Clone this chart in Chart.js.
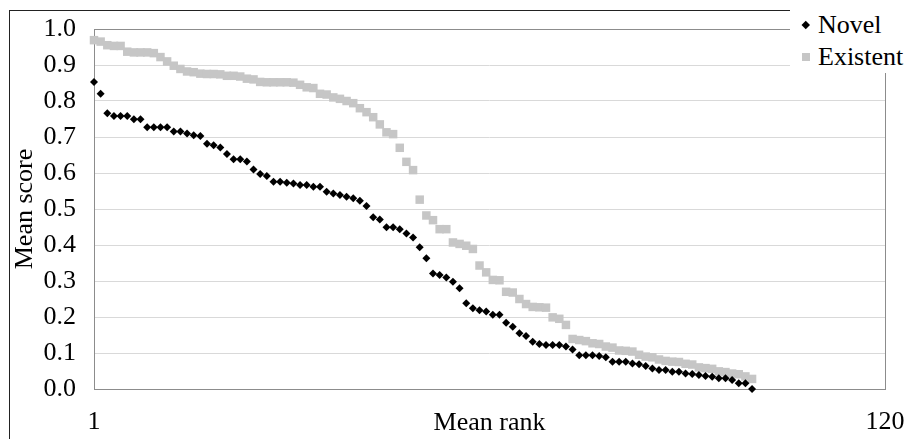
<!DOCTYPE html>
<html>
<head>
<meta charset="utf-8">
<script src="https://cdn.jsdelivr.net/npm/chart.js@4/dist/chart.umd.min.js"></script>
<style>
  body { margin: 0; background: #fff; }
  #wrap { position: relative; width: 907px; height: 439px; }
  #legend {
    position: absolute; left: 790px; top: 0; width: 117px; height: 73px;
    background: #fff; padding-top: 9px; box-sizing: border-box;
    font: 26px "Liberation Serif", "Times New Roman", serif; color: #000;
  }
  .row { position: relative; height: 32px; line-height: 32px; padding-left: 28px; white-space: nowrap; }
  .mark { position: absolute; left: 12px; top: 12px; width: 8px; height: 8px; }
  .mark.diamond { left: 13px; top: 13px; width: 5.5px; height: 5.5px; transform: rotate(45deg); }
</style>
</head>
<body>
<div id="wrap">
  <canvas id="chart" width="907" height="439"></canvas>
  <div id="legend"></div>
</div>
<script>
// rank axis
const rankMin = 1;
const rankMax = 120;
const rankTicks = [1, 120];

// mean scores (rank 1..100)
const novelScores = [
  0.853, 0.82, 0.766, 0.758, 0.758, 0.758, 0.749, 0.749, 0.727, 0.727,
  0.727, 0.727, 0.715, 0.715, 0.71, 0.705, 0.703, 0.681, 0.677, 0.671,
  0.653, 0.638, 0.638, 0.632, 0.61, 0.597, 0.592, 0.576, 0.576, 0.573,
  0.571, 0.567, 0.567, 0.562, 0.562, 0.548, 0.543, 0.539, 0.534, 0.53,
  0.523, 0.508, 0.477, 0.471, 0.449, 0.449, 0.444, 0.432, 0.421, 0.394,
  0.363, 0.321, 0.317, 0.31, 0.298, 0.28, 0.238, 0.224, 0.219, 0.215,
  0.206, 0.206, 0.184, 0.173, 0.155, 0.147, 0.131, 0.125, 0.122, 0.122,
  0.122, 0.118, 0.11, 0.094, 0.094, 0.094, 0.092, 0.088, 0.076, 0.076,
  0.076, 0.071, 0.069, 0.064, 0.057, 0.053, 0.053, 0.048, 0.048, 0.043,
  0.042, 0.039, 0.036, 0.034, 0.03, 0.03, 0.025, 0.016, 0.016, 0.0
];
const existentScores = [
  0.969, 0.965, 0.955, 0.953, 0.953, 0.937, 0.935, 0.935, 0.935, 0.933,
  0.922, 0.91, 0.898, 0.889, 0.882, 0.88, 0.876, 0.875, 0.875, 0.874,
  0.87, 0.87, 0.868, 0.862, 0.86, 0.853, 0.852, 0.852, 0.852, 0.852,
  0.851, 0.845, 0.838, 0.836, 0.82, 0.818, 0.81, 0.806, 0.8, 0.794,
  0.78, 0.769, 0.755, 0.735, 0.713, 0.708, 0.67, 0.631, 0.608, 0.526,
  0.482, 0.469, 0.444, 0.444, 0.407, 0.403, 0.398, 0.389, 0.343, 0.324,
  0.303, 0.302, 0.27, 0.268, 0.25, 0.236, 0.228, 0.227, 0.226, 0.199,
  0.195, 0.178, 0.139, 0.136, 0.133, 0.127, 0.125, 0.118, 0.115, 0.107,
  0.106, 0.104, 0.095, 0.09, 0.088, 0.082, 0.078, 0.076, 0.075, 0.07,
  0.068, 0.06, 0.058, 0.056, 0.049, 0.047, 0.043, 0.041, 0.035, 0.028
];
const seriesNames = ['Novel', 'Existent'];

const FONT = { family: '"Liberation Serif", "Times New Roman", serif', size: 26 };
const NOVEL_COLOR = '#000000';
const EXISTENT_COLOR = '#c6c6c6';

// outer box and plot frame
const framePlugin = {
  id: 'frame',
  beforeDraw(chart) {
    const ctx = chart.ctx;
    ctx.save();
    ctx.strokeStyle = '#222';
    ctx.lineWidth = 1;
    ctx.strokeRect(9.5, 10.5, 1000, 1000);
    ctx.restore();
  },
  beforeDatasetsDraw(chart) {
    const { ctx, chartArea: a } = chart;
    ctx.save();
    ctx.strokeStyle = '#8c8c8c';
    ctx.lineWidth = 1;
    ctx.strokeRect(Math.round(a.left) + 0.5, Math.round(a.top) + 0.5,
      Math.round(a.right - a.left), Math.round(a.bottom - a.top));
    ctx.restore();
  }
};

const toPoints = arr => arr.map((v, i) => ({ x: i + 1, y: v }));

const chart = new Chart(document.getElementById('chart'), {
  type: 'scatter',
  data: {
    datasets: [{
      label: seriesNames[0],
      data: toPoints(novelScores),
      pointStyle: 'rectRot',
      pointRadius: 4,
      backgroundColor: NOVEL_COLOR,
      borderColor: NOVEL_COLOR,
      borderWidth: 0,
      clip: false
    }, {
      label: seriesNames[1],
      data: toPoints(existentScores),
      pointStyle: 'rect',
      pointRadius: 6,
      backgroundColor: EXISTENT_COLOR,
      borderColor: EXISTENT_COLOR,
      borderWidth: 0,
      clip: false
    }]
  },
  options: {
    responsive: false,
    animation: false,
    devicePixelRatio: 1,
    layout: { padding: { left: 0, top: 29, right: 22, bottom: 0 } },
    plugins: { legend: { display: false }, tooltip: { enabled: false } },
    scales: {
      x: {
        type: 'linear',
        min: rankMin,
        max: rankMax,
        afterBuildTicks: s => { s.ticks = rankTicks.map(v => ({ value: v })); },
        afterFit: s => { s.height = 50; },
        // tick marks are hidden; tickLength only pushes the labels down
        grid: { display: false, drawTicks: true, tickLength: 18 },
        border: { display: false },
        ticks: { padding: 0, color: '#000', font: FONT, maxRotation: 0 },
        title: { display: true, text: 'Mean rank', color: '#000', font: FONT, padding: { top: 0, bottom: 0 } }
      },
      y: {
        min: 0,
        max: 1,
        afterFit: s => { s.width = 94; },
        grid: { color: '#d9d9d9', lineWidth: 1, drawTicks: true, tickLength: 18, tickColor: 'rgba(0,0,0,0)' },
        border: { display: false },
        ticks: { stepSize: 0.1, padding: 0, color: '#000', font: FONT, callback: v => v.toFixed(1) },
        title: { display: true, text: 'Mean score', color: '#000', font: FONT, padding: { top: 10, bottom: 0 } }
      }
    }
  },
  plugins: [framePlugin]
});

// legend built from the datasets
const legend = document.getElementById('legend');
chart.data.datasets.forEach(ds => {
  const row = document.createElement('div');
  row.className = 'row';
  const mark = document.createElement('span');
  mark.className = 'mark' + (ds.pointStyle === 'rectRot' ? ' diamond' : '');
  mark.style.background = ds.backgroundColor;
  row.appendChild(mark);
  row.appendChild(document.createTextNode(ds.label));
  legend.appendChild(row);
});
</script>
</body>
</html>
